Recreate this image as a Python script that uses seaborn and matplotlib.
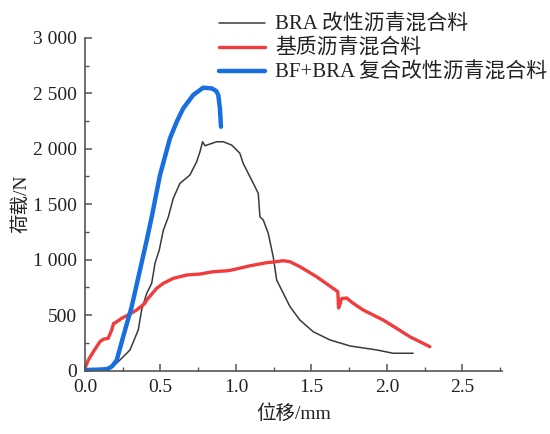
import matplotlib
matplotlib.use("Agg")
import matplotlib.pyplot as plt
import seaborn as sns
import numpy as np
from matplotlib.ticker import FuncFormatter, MultipleLocator

# ---- data ----
bra_x = [0.00, 0.10, 0.166, 0.21, 0.298, 0.353, 0.375, 0.409, 0.442, 0.464, 0.492, 0.519,
         0.552, 0.585, 0.629, 0.695, 0.740, 0.762, 0.779, 0.795, 0.872, 0.916, 0.972,
         1.026, 1.048, 1.104, 1.148, 1.159, 1.181, 1.214, 1.247, 1.270, 1.303, 1.358,
         1.424, 1.512, 1.623, 1.755, 1.932, 2.042, 2.174]
bra_y = [0, 8, 20, 67, 186, 367, 547, 697, 787, 968, 1087, 1265,
         1385, 1553, 1688, 1763, 1883, 1973, 2063, 2027, 2063, 2063, 2033,
         1959, 1868, 1718, 1598, 1387, 1358, 1238, 1027, 817, 727, 577,
         456, 351, 277, 223, 187, 157, 157]

base_x = [0.000, 0.022, 0.060, 0.099, 0.121, 0.154, 0.177, 0.190, 0.199, 0.243, 0.287,
          0.342, 0.397, 0.409, 0.475, 0.519, 0.585, 0.674, 0.762, 0.850, 0.949, 0.982,
          1.093, 1.203, 1.247, 1.313, 1.358, 1.424, 1.534, 1.675, 1.680, 1.690, 1.700,
          1.733, 1.777, 1.843, 1.975, 2.064, 2.152, 2.285]
base_y = [22, 96, 180, 261, 283, 292, 367, 427, 430, 472, 502,
          547, 607, 637, 742, 787, 832, 862, 871, 892, 901, 910,
          945, 973, 979, 991, 982, 937, 847, 712, 565, 600, 650,
          655, 607, 547, 457, 382, 306, 216]

bfbra_x = [0.00, 0.05, 0.10, 0.15, 0.18, 0.21, 0.265, 0.309, 0.364, 0.409, 0.442, 0.497,
           0.563, 0.610, 0.651, 0.717, 0.783, 0.839, 0.870, 0.883, 0.894, 0.901]
bfbra_y = [5, 8, 10, 15, 40, 94, 364, 574, 905, 1175, 1385, 1763,
           2094, 2250, 2364, 2484, 2550, 2544, 2520, 2484, 2364, 2198]

labels = ["BRA 改性沥青混合料", "基质沥青混合料", "BF+BRA 复合改性沥青混合料"]
colors = ["#3a3a3a", "#f03c3c", "#1a6fe0"]
widths = [1.1, 2.4, 3.2]

sns.set_theme(style="ticks")
plt.rcParams['font.family'] = ['Liberation Serif', 'Noto Sans CJK SC', 'DejaVu Sans']
plt.rcParams['axes.unicode_minus'] = False

fig = plt.figure(figsize=(5.5, 4.34), dpi=100)
ax = fig.add_axes([0.1545, 0.1459, 0.7575, 0.7671])

series = [(bra_x, bra_y), (base_x, base_y), (bfbra_x, bfbra_y)]
for (xs, ys), lab, c, w in zip(series, labels, colors, widths):
    sns.lineplot(x=xs, y=ys, ax=ax, color=c, linewidth=w, label=lab,
                 estimator=None, sort=False)

ax.set_xlim(0, 2.76)
ax.set_ylim(0, 3000)
ax.xaxis.set_major_locator(MultipleLocator(0.5))
ax.xaxis.set_minor_locator(MultipleLocator(0.25))
ax.yaxis.set_major_locator(MultipleLocator(500))
ax.yaxis.set_minor_locator(MultipleLocator(250))
ax.xaxis.set_major_formatter(FuncFormatter(lambda v, p: f"{v:.1f}"))
ax.yaxis.set_major_formatter(FuncFormatter(lambda v, p: f"{int(round(v)):,}".replace(",", " ")))

for s in ["top", "right"]:
    ax.spines[s].set_visible(False)
for s in ["left", "bottom"]:
    ax.spines[s].set_color("#555555")
    ax.spines[s].set_linewidth(1.2)

ax.tick_params(which="major", direction="in", length=5, width=1.1, color="#555555",
               labelsize=14, labelcolor="#222222", pad=6)
ax.tick_params(which="minor", direction="in", length=3, width=1.0, color="#555555")

ax.set_xlabel("位移/mm", fontsize=14, color="#222222", labelpad=6)
ax.set_ylabel("荷载/N", fontsize=14, color="#222222", labelpad=2)

leg = ax.legend(loc="upper left", bbox_to_anchor=(0.3755, 0.995), bbox_transform=fig.transFigure,
                frameon=False, fontsize=15, handlelength=2.2, handletextpad=0.48,
                labelspacing=0.19, borderaxespad=0.2)
for t in leg.get_texts():
    t.set_color("#222222")

fig.savefig("out.png", dpi=100)
